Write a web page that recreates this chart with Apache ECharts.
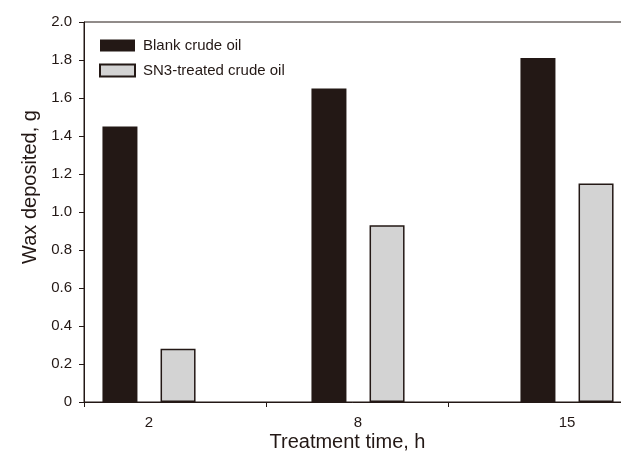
<!DOCTYPE html>
<html>
<head>
<meta charset="utf-8">
<script src="https://cdn.jsdelivr.net/npm/echarts@6/dist/echarts.min.js"></script>
<style>
html,body{margin:0;padding:0;background:#fff;}
#chart{width:621px;height:463px;}
</style>
</head>
<body>
<div id="chart"></div>
<script>
// ---- data ----
const categories = ['2', '8', '15'];
const blankCrude = [1.45, 1.65, 1.81];
const sn3Treated = [0.28, 0.93, 1.15];
const seriesNames = ['Blank crude oil', 'SN3-treated crude oil'];
const xAxisTitle = 'Treatment time, h';
const yAxisTitle = 'Wax deposited, g';

const ink = '#231815';
const font = 'Liberation Sans, Arial, Helvetica, sans-serif';

const chart = echarts.init(document.getElementById('chart'), null, {renderer: 'canvas'});
chart.setOption({
  animation: false,
  backgroundColor: '#ffffff',
  textStyle: {fontFamily: font, color: ink},
  legend: {
    orient: 'vertical',
    left: 99, top: 38, padding: 0,
    itemWidth: 35, itemHeight: 12, itemGap: 10,
    icon: 'rect',
    textStyle: {fontSize: 15, color: ink, fontFamily: font, padding: [0, 0, 0, 3]},
    data: seriesNames
  },
  grid: [
    { // frame grid
      left: 84, width: 547, top: 22, height: 380,
      containLabel: false, outerBoundsMode: 'none',
      show: true, borderColor: ink, borderWidth: 1, backgroundColor: 'transparent', z: 0
    },
    { // bar grid
      left: 44.5, width: 627, top: 22, height: 380,
      containLabel: false, outerBoundsMode: 'none', show: false
    }
  ],
  xAxis: [
    {
      type: 'value', gridIndex: 0, min: 0, max: 3, interval: 1,
      axisLine: {show: true, lineStyle: {color: ink, width: 1}},
      axisTick: {show: true, length: 5, lineStyle: {color: ink, width: 1}},
      axisLabel: {show: false},
      splitLine: {show: false},
      name: xAxisTitle, nameLocation: 'middle', nameGap: 30,
      nameTextStyle: {fontSize: 20, color: ink, fontFamily: font, padding: [0, 20, 0, 0]}
    },
    {
      type: 'category', gridIndex: 1, data: categories,
      axisLine: {show: false}, axisTick: {show: false},
      axisLabel: {show: true, fontSize: 15, color: ink, fontFamily: font, margin: 13},
      splitLine: {show: false}
    }
  ],
  yAxis: [
    {
      type: 'value', gridIndex: 0, min: 0, max: 2, interval: 0.2,
      axisLine: {show: true, lineStyle: {color: ink, width: 1}},
      axisTick: {show: true, length: 5, lineStyle: {color: ink, width: 1}},
      axisLabel: {
        show: true, fontSize: 15, color: ink, fontFamily: font, margin: 12,
        formatter: v => (v === 0 ? '0' : v.toFixed(1))
      },
      splitLine: {show: false},
      name: yAxisTitle, nameLocation: 'middle', nameGap: 43,
      nameTextStyle: {fontSize: 20, color: ink, fontFamily: font, padding: [0, 0, 0, 50]}
    },
    {
      type: 'value', gridIndex: 1, min: 0, max: 2, show: false
    }
  ],
  series: [
    {
      name: seriesNames[0], type: 'bar', xAxisIndex: 1, yAxisIndex: 1,
      data: blankCrude, barWidth: 35, barGap: '66%',
      itemStyle: {color: ink, borderColor: ink, borderWidth: 0}
    },
    {
      name: seriesNames[1], type: 'bar', xAxisIndex: 1, yAxisIndex: 1,
      data: sn3Treated, barWidth: 35, barGap: '66%',
      itemStyle: {color: '#d3d3d3', borderColor: ink, borderWidth: 1.5}
    }
  ]
});
</script>
</body>
</html>
